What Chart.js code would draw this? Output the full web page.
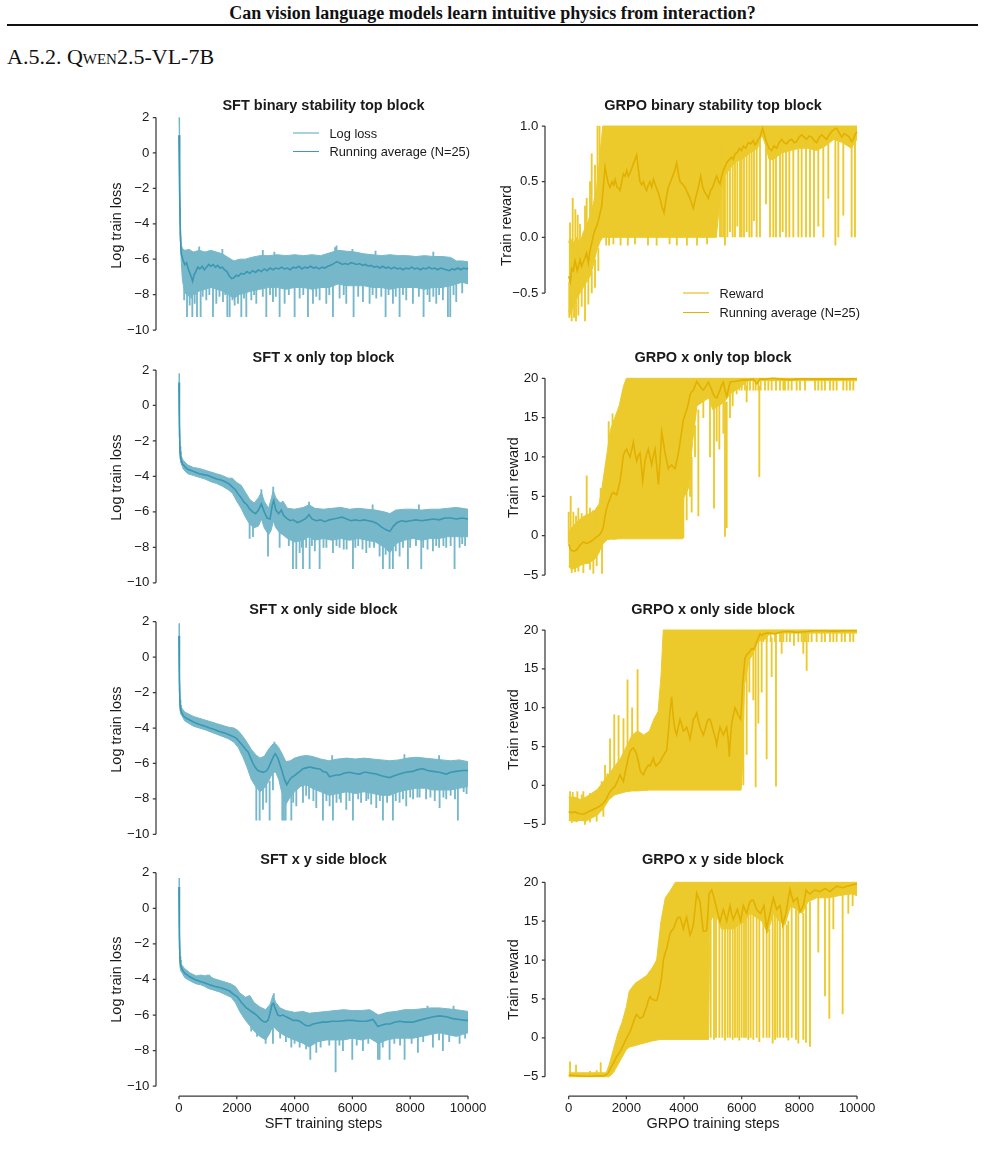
<!DOCTYPE html>
<html>
<head>
<meta charset="utf-8">
<script src="https://cdn.jsdelivr.net/npm/chart.js@4.4.1/dist/chart.umd.min.js"></script>
<style>
  body { margin: 0; width: 985px; height: 1154px; background: #fff; position: relative; overflow: hidden; }
  .hdr { position: absolute; left: 0; top: 2px; width: 985px; text-align: center; font: bold 18px/22px "Liberation Serif", serif; color: #111; }
  .rule { position: absolute; left: 7px; top: 24px; width: 971px; height: 2px; background: #111; }
  .sec { position: absolute; left: 7px; top: 44px; font: 22px/26px "Liberation Serif", serif; color: #111; }
  .panel { position: absolute; }
  .legend { position: absolute; font: 12.8px "Liberation Sans", Arial, sans-serif; color: #1a1a1a; }
  .legend div { display: flex; align-items: center; white-space: nowrap; }
  .legend i { display: inline-block; width: 26px; margin-right: 10.5px; }
</style>
</head>
<body>
<div class="hdr">Can vision language models learn intuitive physics from interaction?</div>
<div class="rule"></div>
<div class="sec">A.5.2. <span style="font-variant: small-caps">Qwen</span>2.5-VL-7B</div>

<script>
// ---- tick labels ----
const stepTicks = [0, 2000, 4000, 6000, 8000, 10000];
const lossTicks = [-10, -8, -6, -4, -2, 0, 2];
const binTicks = [-0.5, 0, 0.5, 1];
const rewardTicks = [-5, 0, 5, 10, 15, 20];

const sftNames = ['Log loss', 'Running average (N=25)'];
const grpoNames = ['Reward', 'Running average (N=25)'];

// ---- SFT binary stability top block ----
// band: [step, upper, lower] of the raw log loss, spikes: [step, low, high]
const sftBinBand = [[0,2.0,1.0],[20,0.0,-2.2],[45,-3.9,-4.9],[80,-5.2,-6.2],[120,-5.4,-7.2],[200,-5.5,-7.9],[350,-5.45,-8.1],[500,-5.6,-8.0],[700,-5.5,-7.8],[900,-5.6,-7.7],[1100,-5.5,-7.6],[1300,-5.6,-7.7],[1500,-5.7,-7.8],[1700,-5.9,-8.0],[1900,-6.1,-8.2],[2100,-6.0,-8.0],[2300,-6.0,-7.9],[2500,-5.9,-7.8],[2800,-5.8,-7.7],[3100,-5.8,-7.6],[3400,-5.75,-7.6],[3700,-5.8,-7.7],[4000,-5.75,-7.6],[4300,-5.8,-7.6],[4600,-5.75,-7.7],[4900,-5.8,-7.6],[5200,-5.65,-7.6],[5500,-5.5,-7.4],[5800,-5.55,-7.5],[6100,-5.6,-7.5],[6400,-5.7,-7.5],[6700,-5.75,-7.6],[7000,-5.8,-7.6],[7300,-5.75,-7.7],[7600,-5.8,-7.6],[7900,-5.8,-7.6],[8200,-5.85,-7.6],[8500,-5.8,-7.7],[8800,-5.85,-7.6],[9100,-5.85,-7.6],[9400,-5.9,-7.5],[9600,-6.1,-7.4],[9800,-6.1,-7.3],[10000,-6.15,-7.4]];
const sftBinSpikes = [[180,-8.3,-7.5],[277,-9.25,-7.5],[369,-8.6,-7.5],[420,-8.2,-7.5],[461,-9.25,-7.5],[542,-8.5,-7.5],[600,-8.0,-7.5],[623,-9.25,-7.5],[749,-9.25,-7.5],[820,-8.1,-7.5],[945,-8.3,-7.5],[1050,-8.0,-7.5],[1176,-9.25,-7.5],[1291,-8.5,-7.5],[1400,-8.1,-7.5],[1522,-8.4,-7.5],[1600,-8.0,-7.5],[1672,-9.25,-7.6],[1753,-9.25,-7.6],[1850,-8.3,-7.8],[1926,-8.6,-7.8],[2041,-8.5,-7.8],[2156,-9.25,-7.8],[2250,-8.2,-7.6],[2329,-9.25,-7.6],[2502,-8.3,-7.5],[2600,-8.0,-7.5],[2675,-8.5,-7.5],[2900,-8.1,-7.5],[3021,-9.25,-7.5],[3150,-8.0,-7.5],[3251,-8.4,-7.5],[3350,-8.1,-7.5],[3482,-9.25,-7.5],[3655,-8.5,-7.5],[3800,-8.0,-7.5],[4001,-9.25,-7.5],[4174,-8.2,-7.5],[4300,-8.0,-7.5],[4462,-9.25,-7.5],[4635,-8.5,-7.5],[4750,-8.1,-7.5],[4866,-8.3,-7.5],[5096,-8.5,-7.5],[5200,-8.0,-7.5],[5327,-9.25,-7.4],[5557,-8.2,-7.4],[5700,-8.0,-7.4],[5788,-8.5,-7.4],[6042,-9.25,-7.4],[6200,-8.1,-7.4],[6365,-8.4,-7.4],[6595,-8.5,-7.5],[6700,-8.0,-7.5],[6826,-8.2,-7.5],[7000,-8.1,-7.5],[7149,-9.25,-7.5],[7250,-8.0,-7.5],[7402,-8.5,-7.5],[7500,-8.1,-7.5],[7633,-9.25,-7.5],[7750,-8.0,-7.5],[7863,-8.3,-7.5],[8094,-8.5,-7.5],[8300,-8.1,-7.5],[8463,-9.25,-7.5],[8600,-8.0,-7.5],[8671,-8.4,-7.5],[8800,-8.1,-7.5],[8902,-8.5,-7.5],[9000,-8.0,-7.5],[9132,-8.3,-7.5],[9305,-9.25,-7.4],[9386,-9.25,-7.4],[9500,-8.0,-7.3],[9593,-8.4,-7.3],[9800,-7.9,-7.3],[700,-5.9,-5.3],[1500,-5.9,-5.45],[2900,-6.0,-5.5],[3300,-6.0,-5.6],[5400,-5.8,-5.35],[5450,-5.7,-5.25],[6000,-5.9,-5.45],[6800,-6.0,-5.55],[8800,-6.0,-5.6]];
const sftBinAvg = [[0,1.0],[20,-2.0],[45,-4.6],[80,-5.7],[130,-6.0],[200,-6.3],[260,-6.2],[330,-6.6],[400,-6.9],[470,-7.25],[520,-6.9],[580,-6.7],[650,-6.45],[720,-6.55],[800,-6.4],[880,-6.6],[950,-6.45],[1030,-6.3],[1100,-6.4],[1180,-6.3],[1260,-6.45],[1340,-6.35],[1420,-6.5],[1500,-6.45],[1580,-6.6],[1660,-6.7],[1740,-6.95],[1820,-7.1],[1900,-7.05],[1980,-6.9],[2060,-6.95],[2150,-6.8],[2250,-6.85],[2350,-6.7],[2450,-6.8],[2550,-6.65],[2650,-6.75],[2750,-6.6],[2850,-6.7],[2950,-6.55],[3050,-6.65],[3150,-6.5],[3250,-6.6],[3350,-6.5],[3450,-6.55],[3550,-6.45],[3650,-6.55],[3750,-6.5],[3850,-6.6],[3950,-6.45],[4050,-6.5],[4150,-6.4],[4250,-6.55],[4350,-6.45],[4450,-6.5],[4550,-6.4],[4650,-6.5],[4750,-6.45],[4850,-6.55],[4950,-6.45],[5050,-6.5],[5150,-6.4],[5250,-6.35],[5350,-6.25],[5450,-6.15],[5550,-6.2],[5650,-6.3],[5750,-6.25],[5850,-6.3],[5950,-6.2],[6050,-6.25],[6150,-6.3],[6250,-6.25],[6350,-6.35],[6450,-6.3],[6550,-6.4],[6650,-6.35],[6750,-6.45],[6850,-6.4],[6950,-6.5],[7050,-6.4],[7150,-6.5],[7250,-6.45],[7350,-6.55],[7450,-6.45],[7550,-6.55],[7650,-6.5],[7750,-6.6],[7850,-6.5],[7950,-6.55],[8050,-6.45],[8150,-6.55],[8250,-6.5],[8350,-6.6],[8450,-6.5],[8550,-6.55],[8650,-6.45],[8750,-6.55],[8850,-6.5],[8950,-6.6],[9050,-6.5],[9150,-6.55],[9250,-6.6],[9350,-6.65],[9450,-6.55],[9550,-6.6],[9650,-6.5],[9750,-6.6],[9850,-6.5],[9950,-6.55],[10000,-6.5]];

// ---- SFT x only top block ----
const sftXTopBand = [[0,1.8,1.2],[15,-0.5,-1.8],[35,-2.3,-2.9],[60,-2.8,-3.2],[150,-3.1,-3.6],[300,-3.35,-3.85],[500,-3.5,-3.95],[700,-3.55,-4.05],[900,-3.65,-4.15],[1100,-3.75,-4.3],[1300,-3.85,-4.4],[1500,-3.95,-4.55],[1700,-4.1,-4.75],[1850,-4.1,-4.95],[2000,-4.35,-5.4],[2150,-4.5,-5.8],[2300,-4.9,-6.3],[2450,-5.3,-6.7],[2600,-5.5,-6.9],[2750,-5.2,-6.8],[2850,-4.9,-6.4],[2950,-5.4,-6.9],[3100,-5.8,-7.3],[3200,-5.2,-7.0],[3260,-4.8,-6.5],[3350,-5.2,-6.9],[3500,-5.5,-7.2],[3600,-5.4,-7.3],[3750,-5.8,-7.5],[4000,-5.85,-7.7],[4300,-5.75,-7.6],[4500,-5.6,-7.4],[4700,-5.8,-7.6],[5000,-5.85,-7.5],[5300,-5.8,-7.6],[5600,-5.75,-7.5],[5900,-5.85,-7.6],[6200,-5.8,-7.5],[6500,-5.85,-7.6],[6800,-5.9,-7.7],[7100,-6.0,-8.0],[7300,-6.1,-8.3],[7500,-5.9,-7.8],[7800,-5.85,-7.6],[8100,-5.85,-7.5],[8400,-5.9,-7.6],[8700,-5.85,-7.5],[9000,-5.85,-7.5],[9300,-5.8,-7.4],[9600,-5.75,-7.4],[9800,-5.8,-7.4],[10000,-5.85,-7.4]];
const sftXTopSpikes = [[2444,-7.5,-6.5],[2560,-7.4,-6.5],[3079,-8.5,-7.0],[3482,-8.0,-7.0],[3800,-7.9,-7.4],[3943,-9.2,-7.5],[4059,-9.2,-7.5],[4174,-8.3,-7.5],[4250,-8.0,-7.5],[4290,-9.2,-7.5],[4400,-8.0,-7.4],[4520,-9.2,-7.3],[4600,-7.9,-7.3],[4700,-8.2,-7.4],[4866,-9.2,-7.5],[5000,-8.0,-7.4],[5100,-8.0,-7.4],[5327,-8.3,-7.4],[5450,-7.9,-7.4],[5557,-8.0,-7.4],[5700,-8.1,-7.4],[5800,-8.1,-7.4],[6019,-9.2,-7.5],[6100,-8.0,-7.4],[6200,-7.9,-7.4],[6350,-8.1,-7.4],[6480,-8.3,-7.4],[6595,-8.0,-7.4],[6750,-8.0,-7.5],[6941,-8.5,-7.5],[7057,-9.2,-7.8],[7150,-8.4,-7.8],[7287,-9.2,-8.0],[7402,-9.2,-8.0],[7500,-8.2,-7.7],[7633,-8.5,-7.6],[7750,-8.0,-7.5],[7921,-9.2,-7.5],[8000,-8.0,-7.4],[8200,-7.9,-7.4],[8382,-9.2,-7.5],[8450,-8.0,-7.4],[8600,-8.1,-7.4],[8786,-8.2,-7.4],[8900,-7.9,-7.4],[9000,-8.0,-7.4],[9150,-7.9,-7.4],[9247,-8.0,-7.4],[9400,-7.9,-7.3],[9535,-9.2,-7.4],[9708,-8.0,-7.3],[9800,-7.8,-7.3],[9900,-7.9,-7.3],[2850,-5.2,-4.75],[3260,-5.0,-4.6],[4500,-5.9,-5.45],[6700,-6.1,-5.6],[8300,-6.1,-5.6]];
const sftXTopAvg = [[0,1.3],[15,-1.0],[35,-2.6],[60,-3.0],[120,-3.3],[200,-3.45],[300,-3.6],[400,-3.65],[550,-3.75],[700,-3.85],[850,-3.9],[1000,-3.95],[1150,-4.05],[1300,-4.15],[1450,-4.2],[1600,-4.3],[1750,-4.45],[1850,-4.6],[1950,-4.75],[2050,-5.0],[2150,-5.2],[2250,-5.45],[2350,-5.6],[2450,-5.85],[2550,-6.0],[2650,-6.1],[2750,-5.9],[2850,-5.55],[2950,-6.0],[3050,-6.35],[3150,-6.4],[3230,-5.6],[3280,-5.35],[3350,-5.9],[3450,-6.1],[3540,-5.9],[3620,-6.2],[3720,-6.35],[3850,-6.5],[3950,-6.45],[4100,-6.6],[4250,-6.5],[4400,-6.35],[4500,-6.15],[4600,-6.4],[4750,-6.5],[4900,-6.45],[5050,-6.55],[5200,-6.45],[5350,-6.4],[5500,-6.35],[5650,-6.3],[5800,-6.4],[5950,-6.5],[6100,-6.45],[6250,-6.5],[6400,-6.45],[6550,-6.5],[6700,-6.55],[6850,-6.65],[7000,-6.85],[7150,-7.0],[7300,-7.1],[7420,-6.8],[7550,-6.6],[7700,-6.5],[7850,-6.55],[8000,-6.5],[8200,-6.45],[8400,-6.5],[8600,-6.45],[8800,-6.4],[9000,-6.45],[9200,-6.35],[9400,-6.35],[9600,-6.4],[9800,-6.35],[10000,-6.4]];

// ---- SFT x only side block ----
const sftXSideBand = [[0,1.9,1.2],[15,-0.8,-2.0],[35,-2.4,-3.0],[60,-2.8,-3.2],[200,-3.1,-3.6],[500,-3.35,-3.9],[900,-3.55,-4.1],[1300,-3.75,-4.35],[1700,-3.95,-4.6],[1900,-4.0,-4.8],[2050,-4.15,-5.1],[2200,-4.45,-5.6],[2350,-4.8,-6.2],[2500,-5.2,-6.9],[2650,-5.5,-7.3],[2800,-5.7,-7.6],[2950,-5.6,-7.4],[3100,-5.2,-7.0],[3250,-4.9,-6.5],[3350,-4.9,-6.5],[3450,-5.1,-6.9],[3550,-5.4,-7.6],[3700,-5.9,-8.3],[3850,-5.85,-7.9],[4000,-5.7,-7.6],[4200,-5.6,-7.3],[4400,-5.55,-7.2],[4600,-5.6,-7.4],[4900,-5.75,-7.6],[5200,-5.85,-7.8],[5500,-5.75,-7.7],[5800,-5.7,-7.6],[6100,-5.75,-7.7],[6400,-5.7,-7.6],[6700,-5.75,-7.7],[7000,-5.8,-7.8],[7300,-5.85,-7.8],[7600,-5.8,-7.6],[7900,-5.7,-7.5],[8200,-5.65,-7.4],[8500,-5.7,-7.4],[8800,-5.75,-7.5],[9100,-5.8,-7.5],[9400,-5.85,-7.5],[9700,-5.8,-7.4],[10000,-5.9,-7.3]];
const sftXSideSpikes = [[2675,-9.2,-7.0],[2790,-9.2,-7.2],[2906,-8.6,-7.2],[3021,-8.2,-7.0],[3136,-9.2,-7.0],[3251,-7.5,-6.5],[3574,-9.2,-7.4],[3632,-9.2,-7.6],[3690,-9.2,-7.8],[3886,-9.2,-7.8],[3950,-8.2,-7.6],[4059,-8.4,-7.4],[4290,-8.2,-7.2],[4400,-7.8,-7.2],[4500,-8.0,-7.2],[4650,-8.1,-7.3],[4750,-8.5,-7.4],[4981,-9.2,-7.5],[5100,-8.1,-7.6],[5212,-8.4,-7.6],[5327,-9.2,-7.6],[5450,-8.2,-7.6],[5557,-8.0,-7.6],[5600,-8.2,-7.6],[5788,-8.6,-7.5],[5900,-8.1,-7.5],[6019,-9.2,-7.6],[6200,-8.0,-7.6],[6300,-8.2,-7.6],[6480,-8.1,-7.5],[6550,-8.0,-7.5],[6650,-8.3,-7.6],[6826,-8.5,-7.6],[6950,-8.1,-7.7],[7057,-9.2,-7.7],[7200,-8.2,-7.7],[7402,-9.2,-7.7],[7500,-8.1,-7.6],[7633,-8.2,-7.5],[7750,-8.0,-7.5],[7863,-8.4,-7.4],[8000,-7.9,-7.4],[8100,-8.0,-7.4],[8250,-7.9,-7.3],[8325,-7.9,-7.3],[8550,-8.0,-7.3],[8700,-7.9,-7.4],[8850,-8.1,-7.4],[9017,-8.5,-7.4],[9150,-7.9,-7.4],[9247,-8.0,-7.4],[9400,-7.8,-7.4],[9550,-8.0,-7.4],[9650,-9.2,-7.3],[9850,-7.6,-7.3],[9950,-7.7,-7.2],[3300,-5.2,-4.8],[5300,-6.0,-5.55],[7800,-6.0,-5.5],[9000,-6.0,-5.55]];
const sftXSideAvg = [[0,1.2],[15,-1.2],[35,-2.7],[60,-3.0],[140,-3.3],[250,-3.45],[370,-3.55],[550,-3.7],[715,-3.8],[900,-3.9],[1060,-4.0],[1250,-4.1],[1400,-4.2],[1600,-4.3],[1750,-4.4],[1900,-4.5],[2000,-4.6],[2100,-4.8],[2210,-5.0],[2300,-5.2],[2390,-5.35],[2480,-5.7],[2560,-6.0],[2650,-6.25],[2730,-6.4],[2820,-6.45],[2910,-6.5],[3000,-6.45],[3080,-6.3],[3190,-5.9],[3270,-5.6],[3330,-5.45],[3420,-5.7],[3500,-6.1],[3560,-6.4],[3650,-6.9],[3730,-7.2],[3800,-7.0],[3890,-6.8],[3980,-6.7],[4060,-6.6],[4180,-6.45],[4290,-6.3],[4400,-6.25],[4520,-6.2],[4650,-6.25],[4770,-6.3],[4870,-6.3],[4980,-6.45],[5100,-6.5],[5210,-6.75],[5330,-6.7],[5450,-6.65],[5560,-6.65],[5700,-6.55],[5900,-6.5],[6050,-6.55],[6250,-6.6],[6400,-6.5],[6480,-6.5],[6650,-6.55],[6830,-6.6],[7000,-6.7],[7150,-6.75],[7290,-6.8],[7450,-6.7],[7630,-6.6],[7850,-6.5],[8090,-6.45],[8250,-6.35],[8440,-6.3],[8600,-6.4],[8790,-6.45],[9000,-6.5],[9250,-6.6],[9400,-6.5],[9590,-6.45],[9800,-6.4],[10000,-6.4]];

// ---- SFT x y side block ----
const sftXYSideBand = [[0,1.7,1.1],[15,-1.0,-2.3],[35,-2.7,-3.3],[60,-3.1,-3.5],[200,-3.4,-3.9],[400,-3.65,-4.1],[600,-3.8,-4.25],[750,-3.75,-4.3],[900,-3.8,-4.4],[1000,-3.75,-4.5],[1200,-3.95,-4.6],[1400,-4.05,-4.7],[1600,-4.15,-4.85],[1800,-4.25,-5.0],[1950,-4.4,-5.3],[2100,-4.75,-5.8],[2300,-5.0,-6.3],[2450,-4.9,-6.6],[2600,-5.3,-6.9],[2800,-5.55,-7.2],[3000,-5.7,-7.4],[3150,-5.4,-7.0],[3250,-4.9,-6.6],[3350,-5.3,-6.8],[3500,-5.6,-7.0],[3700,-5.75,-7.2],[4000,-5.85,-7.4],[4300,-5.8,-7.6],[4500,-5.9,-7.8],[4800,-5.85,-7.5],[5100,-5.8,-7.4],[5400,-5.75,-7.4],[5700,-5.7,-7.4],[6000,-5.75,-7.3],[6300,-5.75,-7.4],[6600,-5.7,-7.3],[6900,-6.0,-7.6],[7200,-5.85,-7.4],[7500,-5.8,-7.3],[7800,-5.7,-7.3],[8100,-5.7,-7.3],[8400,-5.65,-7.2],[8700,-5.6,-7.1],[9000,-5.6,-7.0],[9300,-5.65,-7.1],[9600,-5.7,-7.2],[9800,-5.75,-7.1],[10000,-5.8,-7.0]];
const sftXYSideSpikes = [[2500,-6.9,-6.4],[2700,-7.2,-6.8],[2998,-7.6,-7.0],[3251,-7.6,-6.6],[3500,-7.3,-6.9],[3700,-7.5,-7.1],[3886,-7.8,-7.1],[4000,-7.6,-7.3],[4174,-7.8,-7.3],[4400,-7.9,-7.5],[4543,-8.5,-7.5],[4750,-8.1,-7.4],[4900,-7.8,-7.4],[5200,-7.7,-7.3],[5419,-9.2,-7.3],[5550,-7.7,-7.3],[5673,-8.0,-7.3],[5996,-8.5,-7.2],[6150,-7.7,-7.3],[6365,-8.0,-7.3],[6550,-7.6,-7.2],[6884,-8.5,-7.5],[6941,-8.5,-7.5],[7050,-7.8,-7.4],[7287,-8.5,-7.3],[7450,-7.6,-7.2],[7650,-7.7,-7.2],[7806,-8.5,-7.2],[8050,-7.6,-7.2],[8267,-8.1,-7.1],[8450,-7.5,-7.1],[8786,-7.8,-7.0],[9000,-7.4,-6.9],[9132,-8.0,-7.0],[9350,-7.5,-7.0],[9708,-7.6,-7.1],[9900,-7.3,-6.9],[1050,-4.2,-3.75],[3280,-5.2,-4.8],[8600,-5.9,-5.5],[9500,-5.9,-5.5]];
const sftXYSideAvg = [[0,1.2],[15,-1.5],[35,-2.9],[60,-3.25],[130,-3.5],[200,-3.65],[370,-3.85],[550,-4.0],[715,-4.1],[900,-4.2],[1060,-4.3],[1250,-4.4],[1410,-4.45],[1600,-4.55],[1750,-4.65],[1900,-4.85],[2000,-4.95],[2100,-5.15],[2160,-5.3],[2250,-5.45],[2330,-5.6],[2420,-5.7],[2500,-5.8],[2600,-5.9],[2680,-6.0],[2800,-6.2],[2900,-6.35],[3000,-6.4],[3080,-6.3],[3150,-5.9],[3220,-5.4],[3270,-5.35],[3320,-5.6],[3420,-6.0],[3500,-6.05],[3600,-6.0],[3700,-6.1],[3830,-6.2],[3950,-6.3],[4080,-6.3],[4180,-6.35],[4300,-6.5],[4410,-6.6],[4520,-6.6],[4640,-6.5],[4800,-6.45],[4950,-6.4],[5100,-6.4],[5300,-6.35],[5560,-6.35],[5800,-6.3],[6020,-6.3],[6250,-6.35],[6480,-6.35],[6600,-6.3],[6710,-6.25],[6800,-6.45],[6880,-6.65],[6950,-6.6],[7050,-6.55],[7170,-6.5],[7300,-6.5],[7450,-6.4],[7630,-6.35],[7850,-6.4],[8090,-6.4],[8300,-6.3],[8550,-6.2],[8800,-6.1],[9020,-6.05],[9250,-6.1],[9480,-6.2],[9700,-6.25],[9900,-6.3],[10000,-6.3]];

// ---- GRPO binary stability top block ----
const grpoBinBand = [[0,-0.05,-0.65],[46,0.0,-0.7],[162,-0.05,-0.62],[277,0.0,-0.55],[393,-0.05,-0.5],[509,0.05,-0.45],[624,0.1,-0.4],[740,0.2,-0.35],[855,0.3,-0.25],[971,0.45,-0.12],[1087,0.75,-0.04],[1180,1.0,0.0],[5120,1.0,0.0],[5250,1.0,0.35],[5400,1.0,0.55],[5600,1.0,0.62],[5800,1.0,0.68],[6000,1.0,0.7],[6300,1.0,0.76],[6550,1.0,0.8],[6700,1.0,0.92],[6800,1.0,0.85],[6950,1.0,0.7],[7100,1.0,0.7],[7400,1.0,0.76],[7700,1.0,0.78],[8000,1.0,0.8],[8300,1.0,0.8],[8600,1.0,0.78],[8900,1.0,0.82],[9200,1.0,0.88],[9500,1.0,0.85],[9800,1.0,0.8],[10000,1.0,0.88]];
const grpoBinLines = [[20,-0.72,-0.4],[46,-0.3,0.13],[104,-0.75,-0.5],[139,-0.3,0.35],[185,-0.72,-0.5],[231,-0.3,0.25],[254,-0.75,-0.45],[312,-0.2,0.2],[335,-0.7,-0.4],[393,-0.2,0.12],[451,-0.62,-0.4],[566,-0.75,-0.4],[566,-0.1,0.28],[624,0.0,0.35],[682,-0.6,-0.3],[740,0.1,0.5],[798,0.1,0.75],[800,-0.5,-0.3],[913,0.3,0.65],[913,-0.45,-0.2],[1000,0.4,1.0],[1029,-0.3,-0.1],[1070,0.5,1.0],[1300,-0.07,0.1],[1400,-0.07,0.1],[1550,-0.06,0.1],[1800,-0.07,0.1],[2050,-0.07,0.1],[2300,-0.06,0.1],[2750,-0.07,0.1],[3050,-0.07,0.1],[3500,-0.06,0.1],[3750,-0.07,0.1],[4100,-0.07,0.1],[4450,-0.07,0.1],[4800,-0.06,0.1],[5248,0,0.9],[5306,0,0.9],[5364,0,0.9],[5420,-0.07,0.9],[5503,0,0.9],[5595,0.05,0.9],[5688,0,0.9],[5768,0,0.9],[5849,0.1,0.9],[5942,0,0.9],[6000,0,0.9],[6081,0,0.9],[6173,0.05,0.9],[6266,0,0.9],[6346,0,0.9],[6427,0.15,0.9],[6520,0,0.9],[6635,0,0.9],[6844,0.3,0.9],[6982,0,0.9],[7098,0,0.9],[7190,0,0.9],[7329,0,0.9],[7422,0.05,0.9],[7537,0,0.9],[7653,0,0.9],[7791,0,0.9],[7965,0,0.9],[8080,0,0.9],[8231,0,0.9],[8369,0,0.9],[8508,0,0.9],[8658,0.1,0.9],[8832,0,0.9],[9005,0.35,0.9],[9250,-0.07,0.9],[9352,0,0.9],[9525,0.2,0.9],[9814,0,0.9],[9930,0,0.9]];
const grpoBinAvg = [[0,-0.35],[60,-0.4],[104,-0.28],[160,-0.3],[220,-0.21],[300,-0.3],[350,-0.25],[393,-0.2],[450,-0.26],[509,-0.22],[570,-0.18],[624,-0.14],[680,-0.23],[740,-0.12],[800,-0.05],[860,0.02],[913,0.07],[970,0.1],[1029,0.15],[1090,0.22],[1144,0.28],[1200,0.45],[1260,0.63],[1318,0.55],[1380,0.48],[1433,0.45],[1500,0.5],[1560,0.47],[1607,0.52],[1680,0.45],[1740,0.44],[1780,0.42],[1840,0.5],[1896,0.57],[1960,0.55],[2010,0.6],[2069,0.55],[2130,0.58],[2190,0.62],[2243,0.66],[2300,0.7],[2358,0.74],[2410,0.62],[2474,0.5],[2530,0.47],[2590,0.5],[2647,0.45],[2700,0.42],[2760,0.47],[2821,0.5],[2880,0.45],[2940,0.52],[2994,0.48],[3050,0.44],[3110,0.4],[3167,0.35],[3230,0.28],[3306,0.22],[3380,0.35],[3456,0.45],[3530,0.5],[3607,0.55],[3680,0.6],[3745,0.67],[3800,0.58],[3861,0.5],[3940,0.48],[4034,0.45],[4120,0.4],[4208,0.35],[4270,0.3],[4323,0.26],[4400,0.35],[4497,0.45],[4578,0.55],[4650,0.45],[4728,0.4],[4790,0.38],[4843,0.35],[4920,0.42],[4994,0.45],[5060,0.5],[5133,0.55],[5200,0.5],[5248,0.48],[5310,0.55],[5364,0.6],[5430,0.64],[5503,0.68],[5580,0.7],[5653,0.72],[5710,0.7],[5768,0.75],[5840,0.76],[5919,0.8],[5990,0.78],[6057,0.82],[6140,0.8],[6231,0.85],[6320,0.84],[6404,0.87],[6460,0.83],[6520,0.85],[6580,0.88],[6635,0.9],[6690,0.95],[6728,0.98],[6790,0.92],[6866,0.85],[6950,0.8],[7040,0.78],[7120,0.82],[7213,0.8],[7300,0.85],[7387,0.88],[7470,0.85],[7560,0.84],[7650,0.87],[7734,0.88],[7820,0.85],[7907,0.86],[7990,0.9],[8080,0.92],[8170,0.9],[8254,0.88],[8340,0.91],[8427,0.9],[8510,0.87],[8600,0.85],[8690,0.9],[8774,0.92],[8860,0.9],[8947,0.88],[9030,0.92],[9121,0.95],[9210,0.97],[9294,0.98],[9380,0.94],[9468,0.9],[9550,0.93],[9641,0.92],[9730,0.9],[9814,0.86],[9870,0.88],[9930,0.92],[10000,0.95]];

// ---- GRPO x only top block ----
const grpoXTopBand = [[0,0.5,-3.9],[100,1.0,-4.3],[300,1.8,-4.0],[500,2.4,-3.6],[700,2.8,-3.5],[900,3.2,-3.0],[1050,4.0,-2.2],[1150,6.0,-1.2],[1250,8.5,-0.8],[1350,11.0,-0.5],[1450,13.5,-0.45],[1600,15.0,-0.45],[1750,16.5,-0.4],[1900,19.0,-0.4],[2000,20,-0.4],[3950,20,-0.4],[3990,20,4.8],[4150,20,6.0],[4300,20,12.0],[4450,20,16.5],[4650,20,17.0],[4850,20,17.5],[5000,20,16.0],[5200,20,16.5],[5400,20,17.0],[5600,20,18.0],[5800,20,18.5],[6000,20,19.0],[6200,20,19.7],[10000,20,19.7]];
const grpoXTopLines = [[0,-1,3.0],[69,-1,5.0],[104,-4.7,-3.0],[162,-1,3.0],[220,-4.6,-3.0],[254,-1,2.5],[335,-1,3.5],[335,-4.5,-3.0],[451,-1,2.8],[509,-4.7,-3.0],[624,0,7.6],[740,0,3.5],[740,-4.3,-3.0],[855,0,3.2],[855,-4.8,-2.5],[971,-3.8,-2.0],[994,0,3.5],[1110,0,6.0],[1156,-4.8,-1.0],[1260,2,8.0],[1387,4,14.5],[1520,5,15.5],[3976,-0.3,6],[4092,2,8],[4208,5,10],[4265,3,10],[4381,10,14],[4497,2.5,16],[4670,15,18],[4901,10,17],[5040,3.5,17],[5133,12,17],[5225,11,17],[5364,13,17],[5422,-0.1,17],[5480,1.0,17],[5595,15,18],[5688,16.5,18.5],[5826,18,19],[5919,18.5,20],[6000,18.5,20],[6115,18.5,20],[6173,17,19],[6196,18.5,20],[6289,18.5,20],[6404,18.5,20],[6485,18.5,20],[6578,18.5,20],[6612,7.5,19],[6659,18.5,20],[6809,18.5,20],[6925,18.5,20],[7040,18.5,20],[7190,18.5,20],[7329,18.5,20],[7445,18.5,20],[7502,18.5,20],[7618,18.5,20],[7734,18.5,20],[7907,18.5,20],[8023,18.5,20],[8196,18.5,20],[8543,18.5,20],[8658,18.5,20],[8774,18.5,20],[8890,18.5,20],[9063,18.5,20],[9179,18.5,20],[9294,18.5,20],[9525,18.5,20],[9641,18.5,20],[9757,18.5,20],[9872,18.5,20]];
const grpoXTopAvg = [[0,-1.1],[69,-1.8],[162,-2.0],[277,-1.8],[393,-1.2],[450,-1.0],[509,-0.8],[570,-0.9],[624,-1.0],[680,-0.9],[740,-0.8],[800,-0.65],[855,-0.5],[910,-0.3],[971,-0.15],[1030,0.0],[1087,0.2],[1150,0.6],[1202,1.1],[1260,2.5],[1318,3.5],[1380,4.2],[1433,4.7],[1490,5.3],[1549,5.5],[1610,5.3],[1665,5.2],[1720,6.0],[1780,6.9],[1840,8.5],[1896,10.2],[1950,10.7],[2011,11.0],[2070,10.4],[2127,10.0],[2190,11.0],[2243,11.9],[2300,10.5],[2358,9.5],[2420,10.2],[2474,10.5],[2520,8.8],[2566,6.9],[2610,8.3],[2647,9.5],[2700,10.3],[2763,11.0],[2820,10.0],[2878,9.0],[2940,10.2],[2994,11.0],[3050,9.0],[3110,6.5],[3170,9.5],[3225,13.2],[3280,12.0],[3341,10.5],[3400,9.5],[3456,8.5],[3510,8.8],[3572,9.0],[3630,8.7],[3688,8.5],[3750,9.5],[3803,10.5],[3850,11.5],[3884,12.4],[3930,13.5],[3976,14.7],[4030,15.3],[4092,16.0],[4150,16.8],[4208,17.9],[4270,18.3],[4323,18.5],[4380,19.0],[4439,19.6],[4500,19.3],[4554,19.0],[4610,18.7],[4670,18.5],[4760,19.0],[4843,19.5],[4930,18.8],[5017,18.0],[5080,17.6],[5133,17.5],[5190,18.0],[5248,18.5],[5300,19.1],[5364,19.5],[5420,18.5],[5480,17.7],[5540,18.6],[5595,19.5],[5680,19.6],[5768,19.6],[5900,19.7],[6057,19.8],[6230,19.8],[6404,19.9],[6470,19.6],[6520,19.3],[6580,19.6],[6635,19.9],[6800,19.9],[7098,20.0],[7400,19.9],[7676,19.8],[7900,19.9],[8200,19.95],[8500,19.9],[8832,19.9],[9200,19.95],[9600,19.9],[10000,19.95]];

// ---- GRPO x only side block ----
const grpoXSideBand = [[0,-1.5,-4.5],[200,-1.5,-4.6],[400,-1.8,-4.5],[600,-1.5,-4.6],[800,-1.0,-4.2],[1000,-0.5,-3.8],[1200,0.5,-3.0],[1400,1.5,-1.8],[1600,2.5,-1.2],[1800,3.5,-1.0],[2000,5.0,-0.8],[2200,6.5,-0.7],[2400,7.0,-0.7],[2600,6.5,-0.65],[2800,7.0,-0.6],[2950,8.5,-0.6],[3100,9.5,-0.6],[3200,14,-0.6],[3280,20,-0.6],[5980,20,-0.6],[6020,20,2.0],[6100,20,13],[6250,20,16],[6400,20,17],[6550,20,18.5],[6800,20,18.8],[7000,20,19.6],[10000,20,19.6]];
const grpoXSideLines = [[46,-2,-0.8],[104,-4.8,-3],[139,-2,-0.9],[277,-4.7,-3],[300,-2,-0.8],[451,-2,-1.2],[509,-2,-0.8],[566,-5.0,-3],[740,-2,-1.0],[740,-4.7,-3],[948,-1.5,-0.9],[971,-4.6,-3],[1144,-1,0.5],[1202,-4.0,-2.5],[1260,-1,2.6],[1341,-1,1.5],[1433,0,6.0],[1580,0,9.1],[1730,0,9.0],[1900,0,8.6],[2040,0,13.6],[2200,0,10],[2390,0,14.9],[6057,0.0,15],[6173,4,16],[6266,12,17],[6404,11,17.5],[6485,-0.2,18],[6578,8,18.5],[6693,12,18.8],[6751,18.5,20],[6866,3.4,19],[6866,18.5,20],[7005,18.5,20],[7040,14,19],[7156,18.5,20],[7190,-0.1,19.6],[7329,18.5,20],[7387,17,19.6],[7445,18.5,20],[7560,18.5,20],[7676,18.5,20],[7814,18,20],[7965,18.5,20],[8080,18.5,20],[8138,17,19.6],[8196,18.5,20],[8254,14.8,19.6],[8312,18.5,20],[8427,18.5,20],[8600,18.5,20],[8774,18.5,20],[8890,18.5,20],[9063,18.5,20],[9179,18.5,20],[9294,18.5,20],[9468,18.5,20],[9583,18.5,20],[9757,18.5,20],[9872,18.5,20]];
const grpoXSideAvg = [[0,-3.4],[100,-3.5],[200,-3.4],[277,-3.5],[400,-3.65],[509,-3.7],[570,-3.6],[624,-3.5],[700,-3.35],[800,-3.2],[900,-3.0],[971,-2.9],[1100,-2.6],[1202,-2.3],[1300,-1.8],[1370,-1.2],[1433,-0.8],[1520,-0.4],[1607,-0.1],[1700,0.6],[1780,1.35],[1840,0.9],[1896,0.5],[1950,1.5],[2011,2.6],[2070,3.6],[2127,4.35],[2190,4.7],[2243,4.8],[2300,4.5],[2358,4.0],[2420,3.0],[2474,2.0],[2530,1.6],[2590,1.4],[2650,1.9],[2705,2.3],[2760,2.6],[2821,2.5],[2880,3.0],[2936,3.5],[2990,2.8],[3029,2.5],[3100,2.8],[3167,3.0],[3230,3.5],[3283,3.8],[3340,4.2],[3399,4.5],[3460,7.0],[3514,9.5],[3572,11.4],[3610,9.5],[3650,8.0],[3700,7.0],[3745,6.5],[3800,7.5],[3861,8.5],[3920,7.8],[3976,7.0],[4040,7.2],[4092,7.5],[4150,6.8],[4208,6.0],[4270,7.2],[4323,8.5],[4380,8.8],[4439,9.3],[4500,8.3],[4554,7.5],[4610,7.0],[4670,6.5],[4730,7.2],[4786,8.0],[4840,8.5],[4901,8.5],[4960,7.8],[5017,7.0],[5080,6.2],[5133,5.2],[5190,6.5],[5248,7.5],[5300,7.0],[5364,6.5],[5420,7.0],[5480,7.5],[5530,6.0],[5572,3.7],[5610,6.0],[5653,8.0],[5710,9.0],[5768,10.0],[5830,9.5],[5884,9.0],[5930,8.7],[5965,8.5],[6000,10.5],[6034,13.1],[6075,14.8],[6115,16.4],[6170,16.8],[6231,17.0],[6290,17.3],[6346,17.6],[6400,17.5],[6462,17.8],[6520,18.5],[6580,19.0],[6635,19.5],[6700,19.3],[6751,19.5],[6866,19.6],[6982,19.6],[7150,19.5],[7329,19.7],[7500,19.8],[7676,19.8],[7900,19.7],[8254,19.8],[8500,19.9],[8832,19.9],[9200,19.85],[9600,19.9],[10000,19.9]];

// ---- GRPO x y side block ----
const grpoXYSideBand = [[0,-4.5,-5.0],[1300,-4.5,-5.0],[1400,-3.5,-5.0],[1550,-1.5,-4.5],[1700,0.5,-3.5],[1850,2.0,-2.5],[2000,4.0,-1.5],[2100,6.0,-1.2],[2300,7.0,-1.0],[2500,7.5,-0.8],[2700,8.0,-0.6],[2900,9.0,-0.4],[3050,10.0,-0.3],[3200,15.0,-0.2],[3350,18.0,-0.2],[3500,18.8,-0.2],[3700,20,-0.2],[4850,20,-0.2],[4900,20,15],[5100,20,16],[5300,20,14],[5700,20,14],[5900,20,14.5],[6100,20,15],[6300,20,16],[6500,20,15.5],[6700,20,15],[6900,20,13.5],[7100,20,16],[7300,20,15],[7500,20,14.5],[7700,20,17],[7900,20,16.5],[8100,20,16],[8300,20,17.5],[8600,20,18],[9000,20,18],[9400,20,18.3],[9800,20,18.5],[10000,20,18.3]];
const grpoXYSideLines = [[46,-5,-3.1],[254,-5,-3.5],[740,-5,-4.3],[971,-5,-4.2],[1110,-5,-3.2],[4925,0,16],[5040,-0.2,16],[5110,0,16],[5225,0,15],[5329,0,14.5],[5422,-0.3,14.5],[5514,0,14.5],[5595,0,14.5],[5688,-0.2,14.5],[5768,0,14.5],[5849,0,14.5],[5919,-0.3,14.5],[6000,0,15],[6081,0,15],[6150,0,15.5],[6231,-0.2,16],[6312,0,16],[6404,-0.2,16],[6520,0,15.5],[6612,-0.5,15.5],[6751,0,15],[6866,0,14],[6959,0,14],[7075,-0.7,16],[7156,-0.2,16],[7237,0,15.5],[7329,0,15],[7445,0,15],[7560,0,14.5],[7618,-0.3,15],[7734,0,17],[7884,-0.2,16.5],[7965,-0.7,16.5],[8138,-0.2,16],[8231,-0.6,17],[8369,-1.1,17.5],[8658,11,18],[8890,5.4,18],[9040,2.5,18],[9179,14,18.2],[9502,3.06,18.3],[9699,16,18.5],[9849,17,18.5]];
const grpoXYSideAvg = [[0,-4.8],[200,-4.85],[400,-4.9],[740,-4.95],[1000,-4.9],[1202,-4.9],[1300,-4.75],[1376,-4.5],[1450,-3.9],[1549,-3.3],[1665,-2.4],[1780,-1.8],[1896,-0.9],[2011,0.0],[2127,0.8],[2243,2.0],[2300,2.6],[2358,3.0],[2420,2.7],[2474,2.5],[2530,2.6],[2590,2.8],[2650,3.5],[2705,4.0],[2760,4.8],[2821,5.3],[2880,5.0],[2936,4.9],[3000,4.8],[3052,4.8],[3110,5.5],[3167,6.5],[3230,8.0],[3283,10.0],[3340,10.8],[3399,11.5],[3460,12.5],[3514,13.4],[3570,13.8],[3630,14.0],[3690,14.6],[3745,15.2],[3800,15.5],[3861,15.5],[3920,14.8],[3976,14.0],[4030,14.8],[4092,15.5],[4150,14.3],[4208,13.2],[4270,13.8],[4323,14.5],[4380,16.5],[4439,18.6],[4500,18.0],[4554,17.5],[4610,15.5],[4670,13.7],[4730,13.7],[4786,13.8],[4830,16.0],[4867,18.5],[4920,18.8],[4959,19.0],[5020,18.3],[5075,17.5],[5160,16.2],[5248,14.9],[5300,15.7],[5364,16.5],[5420,15.8],[5480,15.0],[5540,16.0],[5595,17.0],[5650,16.0],[5711,15.2],[5780,15.9],[5849,16.5],[5910,15.7],[5965,15.0],[6010,16.0],[6057,17.0],[6115,16.5],[6173,16.0],[6230,16.8],[6289,17.5],[6350,17.7],[6404,17.7],[6460,17.1],[6520,16.5],[6590,16.2],[6659,16.0],[6710,16.5],[6774,17.0],[6820,15.5],[6866,13.9],[6920,15.0],[6982,16.0],[7040,17.0],[7098,18.0],[7150,17.3],[7213,16.5],[7270,16.8],[7329,17.0],[7380,15.8],[7422,14.5],[7480,15.3],[7537,16.0],[7600,17.5],[7676,19.1],[7730,18.3],[7791,17.5],[7860,17.8],[7930,18.0],[7980,17.0],[8023,16.2],[8080,16.6],[8138,17.0],[8190,18.0],[8231,19.0],[8300,18.7],[8369,18.5],[8450,18.8],[8543,19.0],[8630,18.9],[8716,18.8],[8800,19.0],[8890,19.2],[8980,19.0],[9063,18.8],[9180,19.2],[9294,19.5],[9400,19.4],[9525,19.3],[9640,19.5],[9757,19.6],[9880,19.7],[10000,19.8]];

// ---- look ----
const TXT = '#1a1a1a';
const AX = '#3a3a3a';
const sftPal = { raw: '#76b8ca', avg: '#3b97b2', keyRaw: '#a7d3df', keyAvg: '#3f9ab4' };
const grpoPal = { raw: '#ecca2c', avg: '#e2b000', keyRaw: '#f1d97a', keyAvg: '#e3b300' };

Chart.defaults.font.family = '"Liberation Sans", Arial, sans-serif';
Chart.defaults.color = TXT;

// page geometry (px): columns and rows of the 4x2 grid
const cols = [
  { left: 0, width: 491, axisW: 156, x0: 179, x1: 468 },
  { left: 490, width: 391, axisW: 55, x0: 568.7, x1: 857 }
];
const rowTops = [86, 338, 590, 840];
const TITLE_H = 23.15, PLOT_H = 256, XAXIS_H = 45, TICK_LEN = 3.2;

const fmt = (v, d) => (v < 0 ? '\u2212' : '') + Math.abs(v).toFixed(d);

// trimmed spines + tick marks, seaborn despine style
const spinePlugin = {
  id: 'spines',
  afterDatasetsDraw(chart, args, o) {
    const { ctx, chartArea: a, scales: { x, y } } = chart;
    ctx.save();
    ctx.strokeStyle = AX;
    ctx.lineWidth = 1.25;
    ctx.beginPath();
    ctx.moveTo(a.left, y.getPixelForValue(Math.max(...o.ticks)));
    ctx.lineTo(a.left, y.getPixelForValue(Math.min(...o.ticks)));
    o.ticks.forEach(v => {
      const py = y.getPixelForValue(v);
      ctx.moveTo(a.left - TICK_LEN, py);
      ctx.lineTo(a.left, py);
    });
    if (o.showX) {
      ctx.moveTo(x.getPixelForValue(stepTicks[0]), a.bottom);
      ctx.lineTo(x.getPixelForValue(stepTicks[stepTicks.length - 1]), a.bottom);
      stepTicks.forEach(v => {
        const px = x.getPixelForValue(v);
        ctx.moveTo(px, a.bottom);
        ctx.lineTo(px, a.bottom + TICK_LEN);
      });
    }
    ctx.stroke();
    ctx.restore();
  }
};

function addPanel(p) {
  const c = cols[p.col];
  const top = rowTops[p.row];
  const bottomRow = p.row === 3;
  const box = document.createElement('div');
  box.className = 'panel';
  box.style.left = c.left + 'px';
  box.style.top = top + 'px';
  box.style.width = c.width + 'px';
  box.style.height = (PLOT_H + (bottomRow ? XAXIS_H : 0)) + 'px';
  const cv = document.createElement('canvas');
  box.appendChild(cv);
  document.body.appendChild(box);

  // axis limits so that the reference ticks land where they sit in the figure
  const areaTop = top + TITLE_H, areaBot = top + PLOT_H;
  const [v1, p1, v2, p2] = p.ref;
  const ppu = (p2 - p1) / (v1 - v2);
  const yMax = v1 + (p1 - areaTop) / ppu;
  const yMin = v2 - (areaBot - p2) / ppu;
  const areaL = c.left + c.axisW, areaR = c.left + c.width;
  const xppu = (c.x1 - c.x0) / 10000;
  const xMin = -(c.x0 - areaL) / xppu;
  const xMax = 10000 + (areaR - c.x1) / xppu;

  const pts = (arr, k) => arr.map(r => ({ x: r[0], y: r[k] }));
  // grid kept only for label spacing; marks are drawn by spinePlugin
  const grid = { display: true, drawOnChartArea: false, drawTicks: true, tickLength: TICK_LEN, color: 'rgba(0,0,0,0)' };

  new Chart(cv, {
    type: 'line',
    data: {
      datasets: [
        { data: pts(p.band, 1), borderColor: p.pal.raw, backgroundColor: p.pal.raw, borderWidth: 1, fill: '+1', order: 3 },
        { data: pts(p.band, 2), borderColor: p.pal.raw, borderWidth: 1, fill: false, order: 3 },
        { type: 'bar', data: p.spikes.map(r => ({ x: r[0], y: [r[1], r[2]] })), backgroundColor: p.pal.raw,
          barThickness: 1.2, borderWidth: 0, grouped: false, order: 2 },
        { data: pts(p.avg, 1), borderColor: p.pal.avg, borderWidth: 1.6, fill: false, order: 1 }
      ]
    },
    options: {
      responsive: true,
      maintainAspectRatio: false,
      animation: false,
      events: [],
      layout: { padding: 0 },
      elements: { point: { radius: 0 }, line: { tension: 0 } },
      plugins: {
        legend: { display: false },
        tooltip: { enabled: false },
        title: {
          display: true, text: p.title, fullSize: false, color: TXT,
          font: { size: 14.5, weight: 'bold', lineHeight: 0.4 },
          padding: { top: 17.35, bottom: 0 }
        },
        spines: { ticks: p.ticks, showX: bottomRow }
      },
      scales: {
        x: {
          type: 'linear', min: xMin, max: xMax, display: bottomRow, offset: false,
          afterBuildTicks: s => { s.ticks = stepTicks.map(v => ({ value: v })); },
          afterFit: s => { if (bottomRow) s.height = XAXIS_H; s.paddingLeft = 0; s.paddingRight = 0; },
          grid: grid,
          border: { display: false },
          ticks: { padding: 1, color: TXT, font: { size: 13.2 }, maxRotation: 0, autoSkip: false, callback: v => String(v) },
          title: { display: bottomRow, text: p.xlab || '', color: TXT, font: { size: 14.5 }, padding: { top: 0, bottom: 8.3 } }
        },
        y: {
          type: 'linear', min: yMin, max: yMax,
          afterBuildTicks: s => { s.ticks = p.ticks.map(v => ({ value: v })); },
          afterFit: s => { s.width = c.axisW; s.paddingTop = 0; s.paddingBottom = 0; },
          grid: grid,
          border: { display: false },
          ticks: { padding: 3.5, color: TXT, font: { size: 13.2 }, callback: v => fmt(v, p.dec) },
          title: { display: true, text: p.ylab, color: TXT, font: { size: 14.5 },
                   padding: { top: p.ylabX - c.left - 8.7, bottom: 0 } }
        }
      }
    },
    plugins: [spinePlugin]
  });
}

function addLegend(left, top, rowH, names, pal) {
  const lg = document.createElement('div');
  lg.className = 'legend';
  lg.style.left = left + 'px';
  lg.style.top = top + 'px';
  const keys = [[pal.keyRaw, 2.2], [pal.keyAvg, 1.6]];
  names.forEach((n, i) => {
    const row = document.createElement('div');
    row.style.height = rowH + 'px';
    const sw = document.createElement('i');
    sw.style.background = keys[i][0];
    sw.style.height = keys[i][1] + 'px';
    row.appendChild(sw);
    row.appendChild(document.createTextNode(n));
    lg.appendChild(row);
  });
  document.body.appendChild(lg);
}

const panels = [
  { col: 0, row: 0, title: 'SFT binary stability top block', ylab: 'Log train loss', ticks: lossTicks, dec: 0, ref: [2, 117.5, -10, 330], ylabX: 117.3, band: sftBinBand, spikes: sftBinSpikes, avg: sftBinAvg, pal: sftPal },
  { col: 0, row: 1, title: 'SFT x only top block', ylab: 'Log train loss', ticks: lossTicks, dec: 0, ref: [2, 370, -10, 582.8], ylabX: 117.3, band: sftXTopBand, spikes: sftXTopSpikes, avg: sftXTopAvg, pal: sftPal },
  { col: 0, row: 2, title: 'SFT x only side block', ylab: 'Log train loss', ticks: lossTicks, dec: 0, ref: [2, 621.7, -10, 834.3], ylabX: 117.3, band: sftXSideBand, spikes: sftXSideSpikes, avg: sftXSideAvg, pal: sftPal },
  { col: 0, row: 3, title: 'SFT x y side block', ylab: 'Log train loss', xlab: 'SFT training steps', ticks: lossTicks, dec: 0, ref: [2, 872.7, -10, 1086.2], ylabX: 117.3, band: sftXYSideBand, spikes: sftXYSideSpikes, avg: sftXYSideAvg, pal: sftPal },
  { col: 1, row: 0, title: 'GRPO binary stability top block', ylab: 'Train reward', ticks: binTicks, dec: 1, ref: [1, 126, -0.5, 293], ylabX: 506.7, band: grpoBinBand, spikes: grpoBinLines, avg: grpoBinAvg, pal: grpoPal },
  { col: 1, row: 1, title: 'GRPO x only top block', ylab: 'Train reward', ticks: rewardTicks, dec: 0, ref: [20, 378.3, -5, 575], ylabX: 514, band: grpoXTopBand, spikes: grpoXTopLines, avg: grpoXTopAvg, pal: grpoPal },
  { col: 1, row: 2, title: 'GRPO x only side block', ylab: 'Train reward', ticks: rewardTicks, dec: 0, ref: [20, 630, -5, 824.3], ylabX: 514, band: grpoXSideBand, spikes: grpoXSideLines, avg: grpoXSideAvg, pal: grpoPal },
  { col: 1, row: 3, title: 'GRPO x y side block', ylab: 'Train reward', xlab: 'GRPO training steps', ticks: rewardTicks, dec: 0, ref: [20, 882.3, -5, 1076.7], ylabX: 514, band: grpoXYSideBand, spikes: grpoXYSideLines, avg: grpoXYSideAvg, pal: grpoPal }
];

panels.forEach(addPanel);
addLegend(293, 124.1, 18.4, sftNames, sftPal);
addLegend(683, 283.4, 19.3, grpoNames, grpoPal);
</script>
</body>
</html>
